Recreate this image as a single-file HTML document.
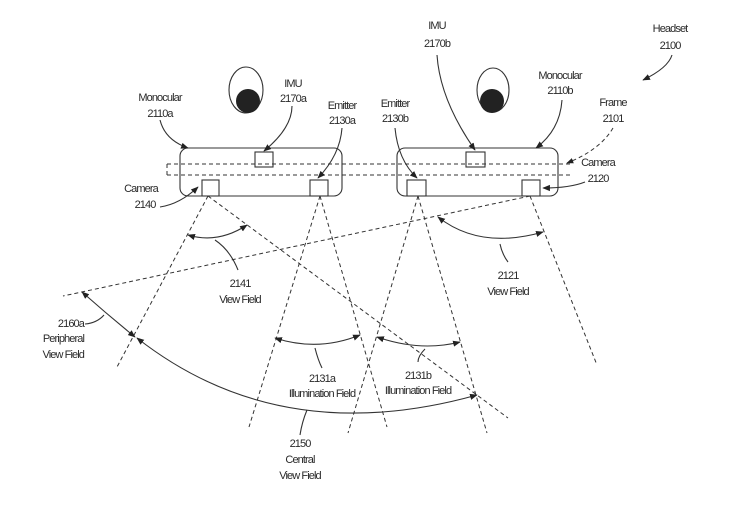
<!DOCTYPE html>
<html><head><style>
html,body{margin:0;padding:0;background:#fff;}
svg text{font-family:"Liberation Sans",sans-serif;font-size:11px;fill:#2a2a2a;text-anchor:middle;letter-spacing:-0.9px;}
</style></head><body>
<svg width="730" height="501" viewBox="0 0 730 501" xmlns="http://www.w3.org/2000/svg">
<defs>
<marker id="a" viewBox="0 0 10 10" refX="9" refY="5" markerWidth="7" markerHeight="7" orient="auto-start-reverse"><path d="M0,1 L10,5 L0,9 z" fill="#222"/></marker>
</defs>
<g fill="none" stroke="#333" stroke-width="1.1">
<rect x="180" y="148" width="162" height="48" rx="8"/>
<rect x="397" y="148" width="161" height="48" rx="8"/>
<rect x="255" y="152" width="18" height="15"/>
<rect x="202" y="180" width="17" height="16"/>
<rect x="310" y="180" width="18" height="16"/>
<rect x="407" y="180" width="19" height="16"/>
<rect x="466" y="152" width="19" height="15"/>
<rect x="522" y="180" width="18" height="16"/>
<ellipse cx="246" cy="90" rx="17" ry="23"/>
<ellipse cx="493" cy="90" rx="16" ry="22"/>
</g>
<circle cx="248" cy="101" r="12" fill="#222"/>
<circle cx="492" cy="101" r="12" fill="#222"/>
<g fill="none" stroke="#333" stroke-width="1" stroke-dasharray="4,3">
<path d="M167,164 H572 M167,175 H572 M167,164 V175"/>
<line x1="208" y1="196" x2="117" y2="367"/>
<line x1="208" y1="196" x2="508" y2="418"/>
<line x1="320" y1="196" x2="249" y2="427"/>
<line x1="320" y1="196" x2="387" y2="427"/>
<line x1="418" y1="196" x2="348" y2="433"/>
<line x1="418" y1="196" x2="487" y2="433"/>
<line x1="530" y1="196" x2="597" y2="365"/>
<line x1="530" y1="196" x2="63" y2="296"/>
<path d="M613,128 Q600,150 567,163" marker-end="url(#a)"/>
</g>
<g fill="none" stroke="#333" stroke-width="1.1">
<path d="M188,235 Q218,244 247,225" marker-start="url(#a)" marker-end="url(#a)"/>
<path d="M82,292 Q108,315 135,337" marker-start="url(#a)" marker-end="url(#a)"/>
<path d="M137,338 Q280,450 477,395" marker-start="url(#a)" marker-end="url(#a)"/>
<path d="M275,338 Q318,352 360,335" marker-start="url(#a)" marker-end="url(#a)"/>
<path d="M377,337 Q420,352 460,342" marker-start="url(#a)" marker-end="url(#a)"/>
<path d="M438,217 Q480,250 543,232" marker-start="url(#a)" marker-end="url(#a)"/>
<path d="M215,240 Q230,250 238,270"/>
<path d="M85,324 Q97,323 104,315"/>
<path d="M307,410 Q302,422 300,435"/>
<path d="M315,348 Q318,360 322,368"/>
<path d="M425,349 Q418,356 418,362"/>
<path d="M500,244 Q502,254 508,262"/>
<path d="M160,120 Q165,140 188,148" marker-end="url(#a)"/>
<path d="M292,106 Q292,128 264,151" marker-end="url(#a)"/>
<path d="M342,128 Q340,155 318,178" marker-end="url(#a)"/>
<path d="M160,207 Q180,204 198,187" marker-end="url(#a)"/>
<path d="M395,128 Q398,160 417,178" marker-end="url(#a)"/>
<path d="M437,55 Q440,100 475,150" marker-end="url(#a)"/>
<path d="M562,100 Q560,130 536,148" marker-end="url(#a)"/>
<path d="M585,182 Q570,188 543,188" marker-end="url(#a)"/>
<path d="M672,55 Q668,68 643,80" marker-end="url(#a)"/>
</g>
<text x="160" y="101">Monocular</text><text x="160" y="117">2110a</text>
<text x="293" y="87">IMU</text><text x="293" y="102">2170a</text>
<text x="342" y="109">Emitter</text><text x="342" y="124">2130a</text>
<text x="141" y="192">Camera</text><text x="145" y="208">2140</text>
<text x="395" y="107">Emitter</text><text x="395" y="122">2130b</text>
<text x="437" y="29">IMU</text><text x="437" y="47">2170b</text>
<text x="560" y="79">Monocular</text><text x="560" y="94">2110b</text>
<text x="613" y="106">Frame</text><text x="613" y="122">2101</text>
<text x="598" y="166">Camera</text><text x="598" y="182">2120</text>
<text x="670" y="32">Headset</text><text x="670" y="49">2100</text>
<text x="240" y="287">2141</text><text x="240" y="303">View Field</text>
<text x="508" y="279">2121</text><text x="508" y="295">View Field</text>
<text x="84" y="327" style="text-anchor:end">2160a</text>
<text x="84" y="342" style="text-anchor:end">Peripheral</text>
<text x="84" y="358" style="text-anchor:end">View Field</text>
<text x="322" y="382">2131a</text><text x="322" y="397">Illumination Field</text>
<text x="418" y="379">2131b</text><text x="418" y="394">Illumination Field</text>
<text x="300" y="447">2150</text><text x="300" y="463">Central</text><text x="300" y="479">View Field</text>
</svg>
</body></html>
